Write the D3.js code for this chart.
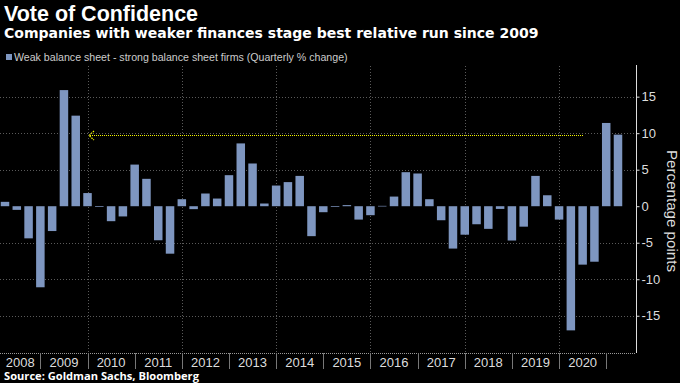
<!doctype html>
<html>
<head>
<meta charset="utf-8">
<script src="https://cdn.jsdelivr.net/npm/d3@7"></script>
<style>
  body { margin: 0; background: #000; }
  svg { display: block; background: #000; }
  text { font-family: "Liberation Sans Narrow", "Liberation Sans", sans-serif; }
  .head { font-family: "Open Sans", sans-serif; font-weight: bold; }
</style>
</head>
<body>
<svg width="680" height="383"></svg>
<script>
// quarterly % change, weak minus strong balance sheet firms, 2008Q1 .. 2021Q1
var quarters = d3.range(53).map(function(i) { return (2008 + Math.floor(i / 4)) + "Q" + (i % 4 + 1); });
var spread = [0.6, -0.5, -4.4, -11.1, -3.4, 15.9, 12.4, 1.8,
              -0.1, -2.05, -1.4, 5.7, 3.75, -4.66, -6.5, 0.96,
              -0.4, 1.74, 1.05, 4.25, 8.6, 5.85, 0.37, 2.83,
              3.3, 4.15, -4.1, -0.82, -0.1, 0.15, -1.83, -1.23,
              0.05, 1.32, 4.66, 4.48, 0.96, -1.92, -5.8, -3.9,
              -2.47, -3.1, -0.37, -4.7, -2.8, 4.15, 1.5, -1.83,
              -17.0, -8.0, -7.6, 11.4, 9.8];
var years = d3.range(2008, 2021);
var yTicks = [-15, -10, -5, 0, 5, 10, 15];
var arrowLevel = 9.7;

var svg = d3.select("svg");
var plotLeft = 0, plotRight = 636, plotTop = 66, plotBottom = 353;

// bar i sits at the end of its quarter, i.e. i+1 quarters after 2008-01-01
var xScale = d3.scaleLinear().domain([1, 53]).range([5, 618]);
var yScale = d3.scaleLinear().domain([-20.1, 19.2]).range([plotBottom, plotTop]);
var barW = 8.5;

// squeeze or stretch a label's font size so it spans the width seen in the chart
function fitWidth(sel, w) {
    var size = parseFloat(sel.style("font-size"));
    var len = sel.node().getComputedTextLength();
    sel.style("font-size", (size * w / len).toFixed(2) + "px");
}

// titles
svg.append("text").attr("x", 4).attr("y", 21)
   .style("font-family", "'Liberation Sans', sans-serif").style("font-weight", "bold")
   .style("font-size", "20px").attr("fill", "#fff")
   .text("Vote of Confidence").call(fitWidth, 194);
svg.append("text").attr("x", 4).attr("y", 38)
   .style("font-family", "'DejaVu Sans', sans-serif").style("font-weight", "bold")
   .style("font-size", "13px").attr("fill", "#fff")
   .text("Companies with weaker finances stage best relative run since 2009").call(fitWidth, 535);

// legend
svg.append("rect").attr("x", 6).attr("y", 54).attr("width", 6).attr("height", 6).attr("fill", "#7e96c0");
svg.append("text").attr("x", 14).attr("y", 61)
   .style("font-size", "11px").attr("fill", "#ccc")
   .text("Weak balance sheet - strong balance sheet firms (Quarterly % change)").call(fitWidth, 334);

// grid
svg.append("g").selectAll("line.hgrid")
   .data(yTicks.filter(function(d) { return d != 0; }))
   .enter().append("line")
   .attr("class", "hgrid")
   .attr("x1", plotLeft).attr("x2", plotRight)
   .attr("y1", function(d) { return Math.round(yScale(d)) + 0.5; })
   .attr("y2", function(d) { return Math.round(yScale(d)) + 0.5; })
   .attr("stroke", "#5a5a5a").attr("stroke-dasharray", "1,2");
svg.append("g").selectAll("line.vgrid")
   .data(years.filter(function(y) { return y % 2 == 0 && y > 2008; }))
   .enter().append("line")
   .attr("class", "vgrid")
   .attr("x1", function(y) { return Math.round(xScale((y - 2008) * 4)) + 0.5; })
   .attr("x2", function(y) { return Math.round(xScale((y - 2008) * 4)) + 0.5; })
   .attr("y1", plotTop).attr("y2", plotBottom)
   .attr("stroke", "#5a5a5a").attr("stroke-dasharray", "1,2");

// bars
svg.append("g").selectAll("rect.bar")
   .data(spread)
   .enter().append("rect")
   .attr("class", "bar")
   .attr("x", function(d, i) { return xScale(i + 1) - barW / 2; })
   .attr("width", barW)
   .attr("y", function(d) { return yScale(Math.max(0, d)); })
   .attr("height", function(d) { return Math.max(0.6, Math.abs(yScale(d) - yScale(0))); })
   .attr("fill", "#7e96c0");

// yellow dotted arrow back to 2009
var arrowY = Math.round(yScale(arrowLevel)) + 0.5;
var ax0 = Math.round(xScale(51) - 11), ax1 = Math.round(xScale(8));
svg.append("line").attr("x1", ax0).attr("x2", ax1 + 1).attr("y1", arrowY).attr("y2", arrowY)
   .attr("stroke", "#f2f200").attr("stroke-dasharray", "1,1");
svg.append("path")
   .attr("d", "M" + (ax1 + 6) + "," + (arrowY - 4.5) + "L" + (ax1 + 1) + "," + arrowY + "L" + (ax1 + 6) + "," + (arrowY + 4.5))
   .attr("fill", "none").attr("stroke", "#f2f200").attr("stroke-width", 1.2).attr("stroke-dasharray", "1.5,1");

// right axis
var yAxis = d3.axisRight(yScale).tickValues(yTicks).tickSize(3).tickPadding(2)
              .tickFormat(function(d) { return String(d); });
var yAxisG = svg.append("g").attr("transform", "translate(" + (plotRight + 0.5) + ",0)").call(yAxis);
yAxisG.select(".domain").attr("stroke", "#ddd").attr("d", "M0," + (plotTop - 1) + "V" + plotBottom);
yAxisG.selectAll(".tick line").attr("stroke", "#ddd");
yAxisG.selectAll(".tick text").attr("fill", "#ddd").style("font-size", "13px")
      .style("font-family", "'Liberation Sans Narrow', 'Liberation Sans', sans-serif");

svg.append("text")
   .attr("transform", "translate(667,211) rotate(90)")
   .attr("text-anchor", "middle")
   .style("font-size", "16px").attr("fill", "#ddd")
   .text("Percentage points").call(fitWidth, 122);

// bottom axis: baseline, year separators, labels
svg.append("line").attr("x1", plotLeft).attr("x2", plotRight).attr("y1", plotBottom + 0.5).attr("y2", plotBottom + 0.5)
   .attr("stroke", "#999").attr("stroke-dasharray", "1,1");
svg.append("g").selectAll("line.sep")
   .data(years.map(function(y) { return y + 1; }))
   .enter().append("line")
   .attr("class", "sep")
   .attr("x1", function(y) { return Math.round(xScale((y - 2008) * 4)) + 0.5; })
   .attr("x2", function(y) { return Math.round(xScale((y - 2008) * 4)) + 0.5; })
   .attr("y1", plotBottom).attr("y2", plotBottom + 16)
   .attr("stroke", "#777");
svg.append("g").selectAll("text.year")
   .data(years)
   .enter().append("text")
   .attr("class", "year")
   .attr("x", function(y) {
       var a = Math.max(0, xScale((y - 2008) * 4)), b = xScale((y - 2007) * 4);
       return (a + b) / 2;
   })
   .attr("y", 366.5)
   .attr("text-anchor", "middle")
   .style("font-size", "13px").attr("fill", "#ddd")
   .text(function(y) { return y; });

svg.append("text").attr("class", "head").attr("x", 4).attr("y", 380)
   .style("font-size", "11.5px").attr("fill", "#fff")
   .text("Source: Goldman Sachs, Bloomberg").call(fitWidth, 195);
</script>
</body>
</html>
